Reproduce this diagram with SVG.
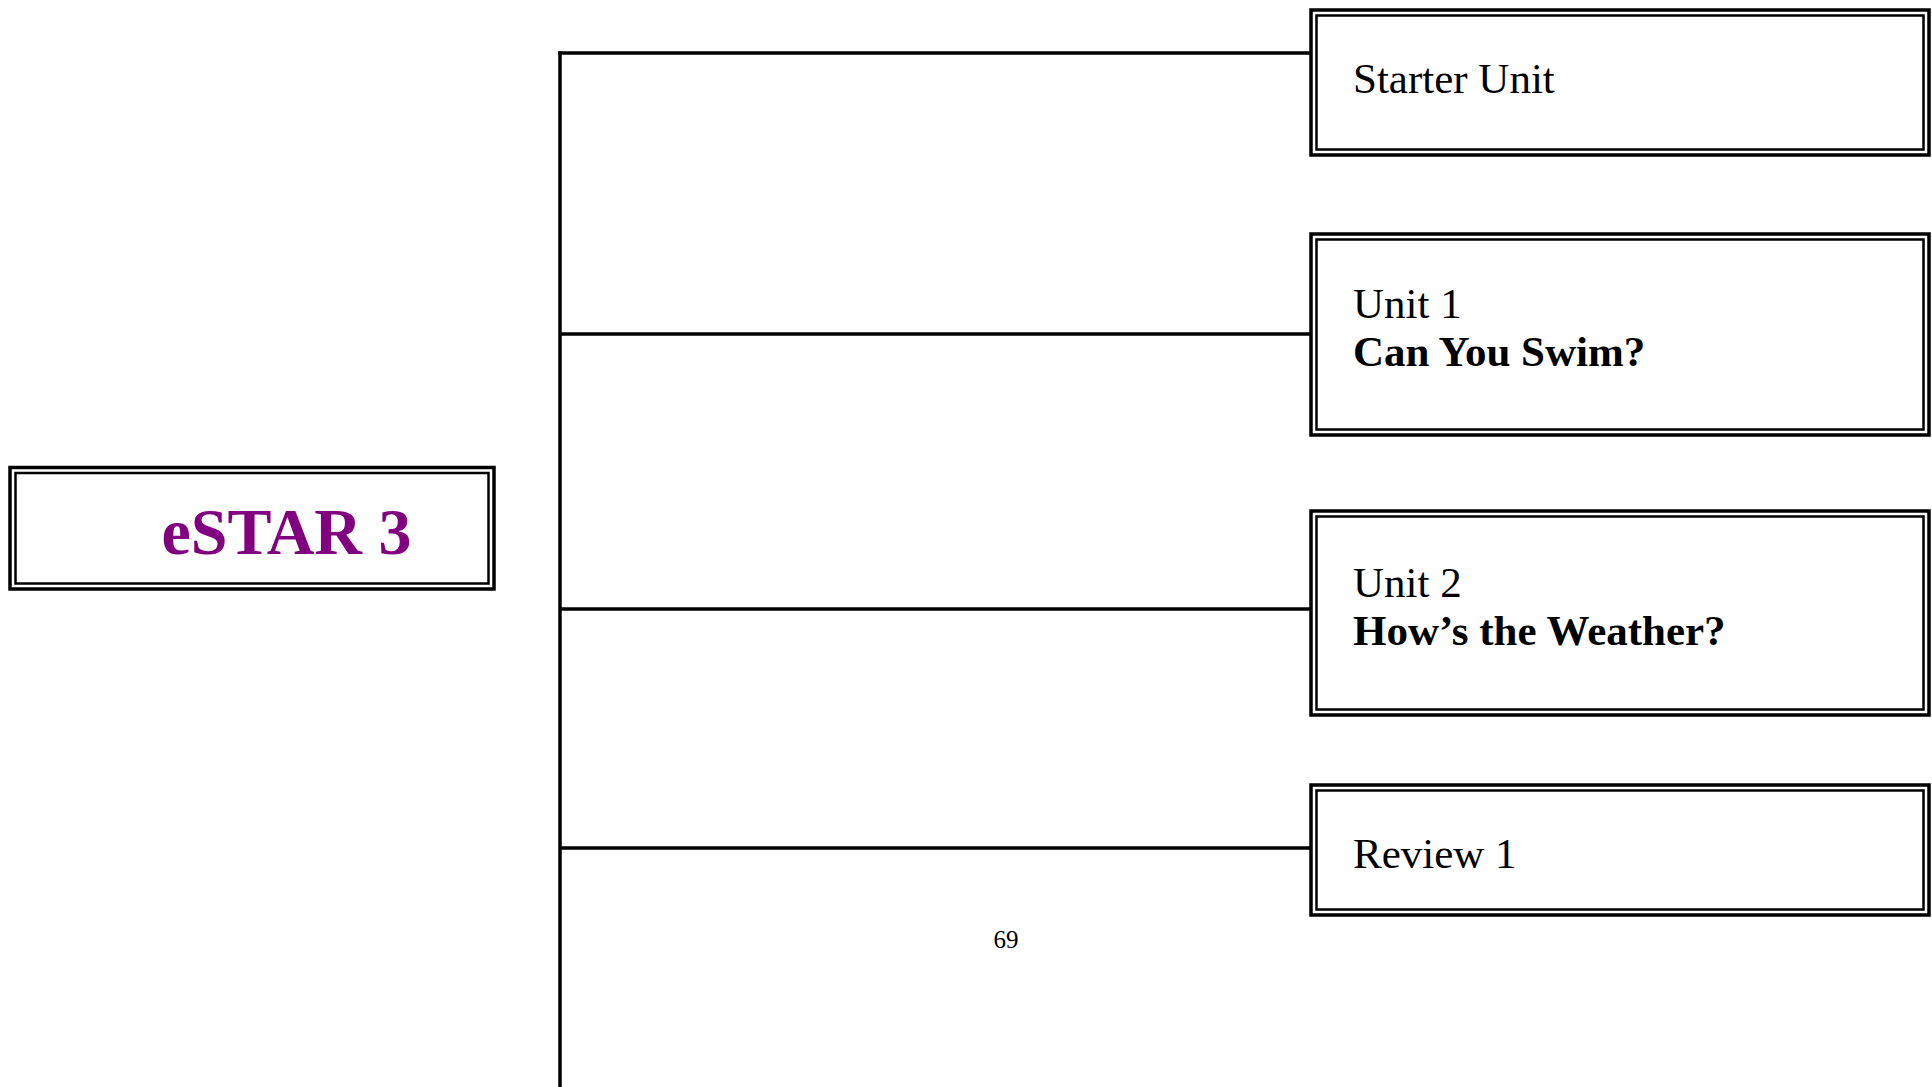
<svg xmlns="http://www.w3.org/2000/svg" width="1932" height="1087" viewBox="0 0 1932 1087">
<style>
.o{fill:none;stroke:#000;stroke-width:3.5}
.i{fill:none;stroke:#000;stroke-width:2.5}
.c{fill:none;stroke:#000;stroke-width:3.5}
.t{font-family:"Liberation Serif","Times New Roman",serif;font-size:43px;fill:#000}
.b{font-weight:bold}
</style>
<rect width="1932" height="1087" fill="#fff"/>
<g id="connectors">
<line class="c" x1="560" y1="51.5" x2="560" y2="1087"/>
<line class="c" x1="558.3" y1="53" x2="1311" y2="53"/>
<line class="c" x1="560" y1="334" x2="1311" y2="334"/>
<line class="c" x1="560" y1="609" x2="1311" y2="609"/>
<line class="c" x1="560" y1="848" x2="1311" y2="848"/>
</g>
<g id="estar3">
<rect class="o" x="10" y="467.5" width="484" height="121.5"/>
<rect class="i" x="15.5" y="473" width="473" height="110.5"/>
<text x="286.5" y="554" text-anchor="middle" font-family="Liberation Serif,'Times New Roman',serif" font-size="66" font-weight="bold" fill="#800080">eSTAR 3</text>
</g>
<g id="starter">
<rect class="o" x="1311" y="10" width="618" height="145"/>
<rect class="i" x="1316.5" y="15.5" width="607" height="134"/>
<text class="t" x="1353" y="93">Starter Unit</text>
</g>
<g id="unit1">
<rect class="o" x="1311" y="234" width="618" height="201"/>
<rect class="i" x="1316.5" y="239.5" width="607" height="190"/>
<text class="t" x="1353" y="318">Unit 1</text>
<text class="t b" x="1353" y="366">Can You Swim?</text>
</g>
<g id="unit2">
<rect class="o" x="1311" y="511" width="618" height="204"/>
<rect class="i" x="1316.5" y="516.5" width="607" height="193"/>
<text class="t" x="1353" y="597">Unit 2</text>
<text class="t b" x="1353" y="645">How’s the Weather?</text>
</g>
<g id="review1">
<rect class="o" x="1311" y="785" width="618" height="130"/>
<rect class="i" x="1316.5" y="790.5" width="607" height="119"/>
<text class="t" x="1353" y="868">Review 1</text>
</g>
<text x="1006" y="948" text-anchor="middle" font-family="Liberation Serif,'Times New Roman',serif" font-size="25" fill="#000">69</text>
</svg>
